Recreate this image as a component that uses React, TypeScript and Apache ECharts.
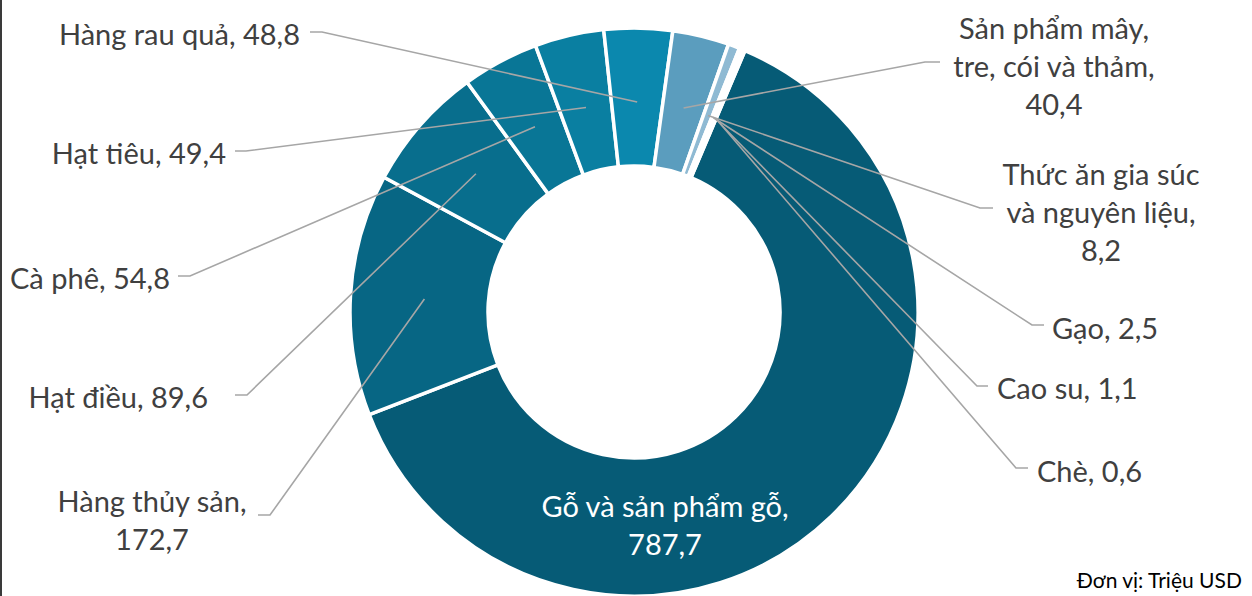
import React, { useEffect, useRef } from "react";
import * as echarts from "echarts";

// ---- data ----
const categories = [
  "Gỗ và sản phẩm gỗ",
  "Hàng thủy sản",
  "Hạt điều",
  "Cà phê",
  "Hạt tiêu",
  "Hàng rau quả",
  "Sản phẩm mây, tre, cói và thảm",
  "Thức ăn gia súc và nguyên liệu",
  "Gạo",
  "Cao su",
  "Chè",
];
const values = [787.7, 172.7, 89.6, 54.8, 49.4, 48.8, 40.4, 8.2, 2.5, 1.1, 0.6];
const sliceColors = [
  "#065b76",
  "#076684",
  "#086e8d",
  "#097696",
  "#0a7fa1",
  "#0b88ae",
  "#5b9dbe",
  "#8fbad3",
  "#b6d3e5",
  "#cfe2ee",
  "#e3eef6",
];
const unitLabel = "Đơn vị: Triệu USD";

// ---- label text wrapping (presentation) ----
const wrappedNames: Record<number, string> = {
  6: "Sản phẩm mây,\ntre, cói và thảm",
  7: "Thức ăn gia súc\nvà nguyên liệu",
};
const valueOnNewLine = [0, 1, 6, 7];

// ---- label layout (presentation) ----
type Pos = { x: number; y: number; align: string; line?: [number, number, number] };
const labelPos: Pos[] = [
  { x: 665, y: 524, align: "center" },
  { x: 152, y: 519, align: "center", line: [270, 258, 515] },
  { x: 208, y: 396, align: "right", line: [247, 235, 395] },
  { x: 170, y: 277, align: "right", line: [190, 178, 276] },
  { x: 226, y: 152, align: "right", line: [246, 235, 151] },
  { x: 300, y: 33, align: "right", line: [322, 310, 32] },
  { x: 1054, y: 65, align: "center", line: [925, 940, 62] },
  { x: 1101, y: 211, align: "center", line: [980, 993, 208] },
  { x: 1052, y: 327, align: "left", line: [1032, 1044, 325] },
  { x: 997, y: 387, align: "left", line: [977, 988, 386] },
  { x: 1037, y: 470, align: "left", line: [1016, 1028, 468] },
];

const fmt = (v: number) => v.toFixed(1).replace(".", ",");
const FONT = "Lato, 'Noto Sans', sans-serif";
const CENTER = [634, 312];
const START_ANGLE = 67;
const LINE_R = 210;

export default function App() {
  const ref = useRef<HTMLDivElement>(null);

  useEffect(() => {
    if (!ref.current) return;
    const chart = echarts.init(ref.current, undefined, { renderer: "svg" });

    const total = values.reduce((a, b) => a + b, 0);
    const cum: number[] = [];
    values.reduce((acc, v, i) => {
      cum[i] = acc;
      return acc + v;
    }, 0);
    // point at mid-angle of each slice, at the leader-line start radius
    const midPoint = (i: number) => {
      const deg = START_ANGLE - ((cum[i] + values[i] / 2) / total) * 360;
      const rad = (deg * Math.PI) / 180;
      return [CENTER[0] + LINE_R * Math.cos(rad), CENTER[1] - LINE_R * Math.sin(rad)];
    };

    const visibleData = categories.map((name, i) => ({
      name,
      value: values[i],
      itemStyle: { color: sliceColors[i] },
    }));

    const labelData = categories.map((name, i) => {
      const nm = wrappedNames[i] ?? name;
      const sep = valueOnNewLine.includes(i) ? ",\n" : ", ";
      return {
        name,
        value: values[i],
        label: {
          formatter: nm + sep + fmt(values[i]),
          color: i === 0 ? "#ffffff" : "#404040",
        },
        labelLine: { show: i !== 0 },
      };
    });

    chart.setOption({
      animation: false,
      graphic: [
        {
          type: "rect",
          left: 0,
          top: 0,
          shape: { width: 2, height: 596 },
          style: { fill: "#3a3a3a" },
          silent: true,
        },
      ],
      title: {
        text: unitLabel,
        right: 4,
        bottom: 1,
        textStyle: { fontFamily: FONT, fontSize: 21, fontWeight: "normal", color: "#000000" },
      },
      series: [
        {
          type: "pie",
          silent: true,
          z: 2,
          center: CENTER,
          radius: [146, 284],
          startAngle: START_ANGLE,
          clockwise: true,
          label: { show: false },
          labelLine: { show: false },
          itemStyle: { borderColor: "#ffffff", borderWidth: 3.5 },
          emphasis: { disabled: true },
          data: visibleData,
        },
        {
          type: "pie",
          silent: true,
          z: 10,
          center: CENTER,
          radius: [0, LINE_R],
          startAngle: START_ANGLE,
          clockwise: true,
          avoidLabelOverlap: false,
          itemStyle: { color: "rgba(0,0,0,0)", borderWidth: 0 },
          emphasis: { disabled: true },
          label: {
            show: true,
            position: "outside",
            fontFamily: FONT,
            fontSize: 29,
            lineHeight: 38,
            color: "#404040",
          },
          labelLine: {
            show: true,
            length: 10,
            length2: 10,
            lineStyle: { color: "#a6a6a6", width: 1.6 },
          },
          labelLayout: (params: any) => {
            const i = params.dataIndex;
            const p = labelPos[i];
            const out: any = {
              x: p.x,
              y: p.y,
              align: p.align,
              verticalAlign: "middle",
            };
            if (p.line) {
              const start = midPoint(i);
              out.labelLinePoints = [
                start,
                [p.line[0], p.line[2]],
                [p.line[1], p.line[2]],
              ];
            }
            return out;
          },
          data: labelData,
        },
      ],
    });

    return () => chart.dispose();
  }, []);

  return (
    <div
      ref={ref}
      style={{ position: "fixed", left: 0, top: 0, width: 1252, height: 596, background: "#ffffff" }}
    />
  );
}
